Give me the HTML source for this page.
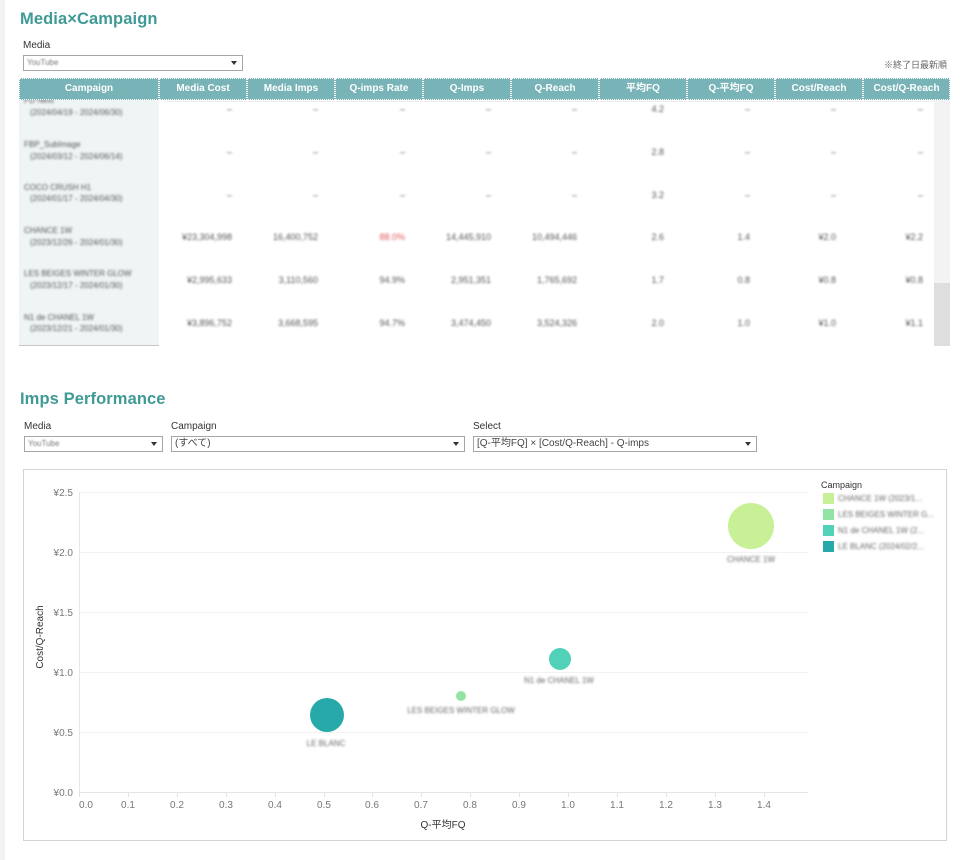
<!DOCTYPE html>
<html><head><meta charset="utf-8">
<style>
*{margin:0;padding:0;box-sizing:border-box}
body{width:964px;height:860px;background:#fff;position:relative;overflow:hidden;font-family:"Liberation Sans","Noto Sans CJK JP",sans-serif;color:#333}
.a{position:absolute;white-space:nowrap}
.strip{left:0;top:0;width:5px;height:860px;background:#f3f3f3}
.title{font-size:16.5px;font-weight:bold;color:#3f9a96;letter-spacing:0.1px}
.lbl{font-size:10px;color:#333}
.dd{border:1px solid #a6a6a6;background:#fff;height:16px;font-size:10px;color:#444;padding-left:3px;line-height:14px}
.dd .arr{position:absolute;right:5px;top:5px;width:0;height:0;border-left:3px solid transparent;border-right:3px solid transparent;border-top:4px solid #333}
.bl{filter:blur(0.9px);color:#777}
.hdr{top:78px;height:22px;background:#77b3b7;color:#fff;font-size:10px;font-weight:bold;text-align:center;line-height:20px;border:1px dotted #fff}
.num{font-size:9px;color:#555;filter:blur(1px);text-align:right;width:80px}
.cn{font-size:8px;color:#555;filter:blur(1px)}
</style></head><body>
<div class="a strip"></div>

<div class="a title" style="left:20px;top:10px">Media×Campaign</div>
<div class="a lbl" style="left:23px;top:40px">Media</div>
<div class="a dd" style="left:23px;top:55px;width:220px"><span class="bl" style="font-size:8px">YouTube</span><span class="arr"></span></div>
<div class="a" style="right:17px;top:58px;font-size:9px;color:#666">※終了日最新順</div>

<div class="a hdr" style="left:19px;width:140px">Campaign</div>
<div class="a hdr" style="left:159px;width:88px">Media Cost</div>
<div class="a hdr" style="left:247px;width:88px">Media Imps</div>
<div class="a hdr" style="left:335px;width:88px">Q-imps Rate</div>
<div class="a hdr" style="left:423px;width:88px">Q-Imps</div>
<div class="a hdr" style="left:511px;width:88px">Q-Reach</div>
<div class="a hdr" style="left:599px;width:88px">平均FQ</div>
<div class="a hdr" style="left:687px;width:88px">Q-平均FQ</div>
<div class="a hdr" style="left:775px;width:88px">Cost/Reach</div>
<div class="a hdr" style="left:863px;width:87px">Cost/Q-Reach</div>

<div class="a" style="left:19px;top:100px;width:931px;height:246px;overflow:hidden">
  <div class="a" style="left:0;top:0;width:140px;height:245px;background:#eff4f5"></div>
  <div class="a" style="left:0;top:245px;width:140px;height:1px;background:#c8c8c8"></div>
  <div class="a" style="left:144px;top:1px;width:771px;height:1px;background:#eeeeee"></div>
  <div class="a" style="left:915px;top:0;width:17px;height:246px;background:#f3f3f3"></div>
  <div class="a" style="left:915px;top:183px;width:17px;height:63px;background:#dedede"></div>

  <div class="a cn" style="left:5px;top:-4px">PD Next</div>
  <div class="a cn" style="left:11px;top:8px">(2024/04/19 - 2024/06/30)</div>
  <div class="a cn" style="left:5px;top:40px">FBP_SubImage</div>
  <div class="a cn" style="left:11px;top:52px">(2024/03/12 - 2024/06/14)</div>
  <div class="a cn" style="left:5px;top:83px">COCO CRUSH H1</div>
  <div class="a cn" style="left:11px;top:94px">(2024/01/17 - 2024/04/30)</div>
  <div class="a cn" style="left:5px;top:126px">CHANCE 1W</div>
  <div class="a cn" style="left:11px;top:138px">(2023/12/26 - 2024/01/30)</div>
  <div class="a cn" style="left:5px;top:169px">LES BEIGES WINTER GLOW</div>
  <div class="a cn" style="left:11px;top:181px">(2023/12/17 - 2024/01/30)</div>
  <div class="a cn" style="left:5px;top:213px">N1 de CHANEL 1W</div>
  <div class="a cn" style="left:11px;top:224px">(2023/12/21 - 2024/01/30)</div>
</div>

<div class="a num" style="left:152px;top:104px">–</div><div class="a num" style="left:238px;top:104px">–</div><div class="a num" style="left:325px;top:104px">–</div><div class="a num" style="left:411px;top:104px">–</div><div class="a num" style="left:497px;top:104px">–</div><div class="a num" style="left:584px;top:104px">4.2</div><div class="a num" style="left:670px;top:104px">–</div><div class="a num" style="left:756px;top:104px">–</div><div class="a num" style="left:843px;top:104px">–</div>
<div class="a num" style="left:152px;top:147px">–</div><div class="a num" style="left:238px;top:147px">–</div><div class="a num" style="left:325px;top:147px">–</div><div class="a num" style="left:411px;top:147px">–</div><div class="a num" style="left:497px;top:147px">–</div><div class="a num" style="left:584px;top:147px">2.8</div><div class="a num" style="left:670px;top:147px">–</div><div class="a num" style="left:756px;top:147px">–</div><div class="a num" style="left:843px;top:147px">–</div>
<div class="a num" style="left:152px;top:190px">–</div><div class="a num" style="left:238px;top:190px">–</div><div class="a num" style="left:325px;top:190px">–</div><div class="a num" style="left:411px;top:190px">–</div><div class="a num" style="left:497px;top:190px">–</div><div class="a num" style="left:584px;top:190px">3.2</div><div class="a num" style="left:670px;top:190px">–</div><div class="a num" style="left:756px;top:190px">–</div><div class="a num" style="left:843px;top:190px">–</div>
<div class="a num" style="left:152px;top:232px">¥23,304,998</div><div class="a num" style="left:238px;top:232px">16,400,752</div><div class="a num" style="left:325px;top:232px;color:#e05555">88.0%</div><div class="a num" style="left:411px;top:232px">14,445,910</div><div class="a num" style="left:497px;top:232px">10,494,446</div><div class="a num" style="left:584px;top:232px">2.6</div><div class="a num" style="left:670px;top:232px">1.4</div><div class="a num" style="left:756px;top:232px">¥2.0</div><div class="a num" style="left:843px;top:232px">¥2.2</div>
<div class="a num" style="left:152px;top:275px">¥2,995,633</div><div class="a num" style="left:238px;top:275px">3,110,560</div><div class="a num" style="left:325px;top:275px">94.9%</div><div class="a num" style="left:411px;top:275px">2,951,351</div><div class="a num" style="left:497px;top:275px">1,765,692</div><div class="a num" style="left:584px;top:275px">1.7</div><div class="a num" style="left:670px;top:275px">0.8</div><div class="a num" style="left:756px;top:275px">¥0.8</div><div class="a num" style="left:843px;top:275px">¥0.8</div>
<div class="a num" style="left:152px;top:318px">¥3,896,752</div><div class="a num" style="left:238px;top:318px">3,668,595</div><div class="a num" style="left:325px;top:318px">94.7%</div><div class="a num" style="left:411px;top:318px">3,474,450</div><div class="a num" style="left:497px;top:318px">3,524,326</div><div class="a num" style="left:584px;top:318px">2.0</div><div class="a num" style="left:670px;top:318px">1.0</div><div class="a num" style="left:756px;top:318px">¥1.0</div><div class="a num" style="left:843px;top:318px">¥1.1</div>

<div class="a title" style="left:20px;top:390px">Imps Performance</div>
<div class="a lbl" style="left:24px;top:421px">Media</div>
<div class="a dd" style="left:24px;top:436px;width:139px"><span class="bl" style="font-size:8px">YouTube</span><span class="arr"></span></div>
<div class="a lbl" style="left:171px;top:421px">Campaign</div>
<div class="a dd" style="left:171px;top:436px;width:294px">(すべて)<span class="arr"></span></div>
<div class="a lbl" style="left:473px;top:421px">Select</div>
<div class="a dd" style="left:473px;top:436px;width:284px">[Q-平均FQ] × [Cost/Q-Reach] - Q-imps<span class="arr"></span></div>

<div class="a" style="left:23px;top:469px;width:924px;height:372px;border:1px solid #d4d4d4"></div>

<svg class="a" style="left:0;top:0" width="964" height="860" xmlns="http://www.w3.org/2000/svg">
<defs><filter id="bf" x="-10%" y="-50%" width="120%" height="200%"><feGaussianBlur stdDeviation="1"/></filter></defs>
<g stroke="#f2f2f2" stroke-width="1">
<line x1="79" y1="492.5" x2="808" y2="492.5"/>
<line x1="79" y1="552.5" x2="808" y2="552.5"/>
<line x1="79" y1="612.5" x2="808" y2="612.5"/>
<line x1="79" y1="672.5" x2="808" y2="672.5"/>
<line x1="79" y1="732.5" x2="808" y2="732.5"/>
</g>
<line x1="79" y1="792.5" x2="808" y2="792.5" stroke="#e6e6e6"/>
<line x1="79.5" y1="492" x2="79.5" y2="793" stroke="#e6e6e6"/>
<g stroke="#e2e2e2">
<line x1="79.5" y1="793" x2="79.5" y2="797"/><line x1="128.5" y1="793" x2="128.5" y2="797"/><line x1="177.5" y1="793" x2="177.5" y2="797"/><line x1="226.5" y1="793" x2="226.5" y2="797"/><line x1="275.5" y1="793" x2="275.5" y2="797"/><line x1="324.5" y1="793" x2="324.5" y2="797"/><line x1="372.5" y1="793" x2="372.5" y2="797"/><line x1="421.5" y1="793" x2="421.5" y2="797"/><line x1="470.5" y1="793" x2="470.5" y2="797"/><line x1="519.5" y1="793" x2="519.5" y2="797"/><line x1="568.5" y1="793" x2="568.5" y2="797"/><line x1="617.5" y1="793" x2="617.5" y2="797"/><line x1="666.5" y1="793" x2="666.5" y2="797"/><line x1="715.5" y1="793" x2="715.5" y2="797"/><line x1="764.5" y1="793" x2="764.5" y2="797"/>
</g>
<g font-family="Liberation Sans, sans-serif" font-size="10" fill="#777" text-anchor="end">
<text x="73" y="496">¥2.5</text><text x="73" y="556">¥2.0</text><text x="73" y="616">¥1.5</text><text x="73" y="676">¥1.0</text><text x="73" y="736">¥0.5</text><text x="73" y="796">¥0.0</text>
</g>
<g font-family="Liberation Sans, sans-serif" font-size="10" fill="#777" text-anchor="middle">
<text x="86" y="808">0.0</text><text x="128" y="808">0.1</text><text x="177" y="808">0.2</text><text x="226" y="808">0.3</text><text x="275" y="808">0.4</text><text x="324" y="808">0.5</text><text x="372" y="808">0.6</text><text x="421" y="808">0.7</text><text x="470" y="808">0.8</text><text x="519" y="808">0.9</text><text x="568" y="808">1.0</text><text x="617" y="808">1.1</text><text x="666" y="808">1.2</text><text x="715" y="808">1.3</text><text x="764" y="808">1.4</text>
</g>
<text x="443" y="828" font-family="Liberation Sans, Noto Sans CJK JP, sans-serif" font-size="10" fill="#333" text-anchor="middle">Q-平均FQ</text>
<text transform="translate(43,637) rotate(-90)" font-family="Liberation Sans, sans-serif" font-size="10" fill="#333" text-anchor="middle">Cost/Q-Reach</text>

<circle cx="751" cy="526" r="23" fill="#c8f096"/>
<circle cx="560" cy="659" r="11" fill="#52d1b9"/>
<circle cx="461" cy="696" r="5" fill="#93e3a4"/>
<circle cx="327" cy="715" r="17" fill="#27a9aa"/>
<g font-family="Liberation Sans, sans-serif" font-size="8" fill="#666" text-anchor="middle" filter="url(#bf)">
<text x="751" y="562">CHANCE 1W</text>
<text x="559" y="683">N1 de CHANEL 1W</text>
<text x="461" y="713">LES BEIGES WINTER GLOW</text>
<text x="326" y="746">LE BLANC</text>
</g>

<text x="821" y="488" font-family="Liberation Sans, sans-serif" font-size="9" fill="#333">Campaign</text>
<rect x="823" y="493" width="11" height="11" fill="#c8f096"/>
<rect x="823" y="509" width="11" height="11" fill="#93e3a4"/>
<rect x="823" y="525" width="11" height="11" fill="#52d1b9"/>
<rect x="823" y="541" width="11" height="11" fill="#27a9aa"/>
<g font-family="Liberation Sans, sans-serif" font-size="8" fill="#666" filter="url(#bf)">
<text x="838" y="501">CHANCE 1W (2023/1...</text>
<text x="838" y="517">LES BEIGES WINTER G...</text>
<text x="838" y="533">N1 de CHANEL 1W (2...</text>
<text x="838" y="549">LE BLANC (2024/02/2...</text>
</g>
</svg>
</body></html>
